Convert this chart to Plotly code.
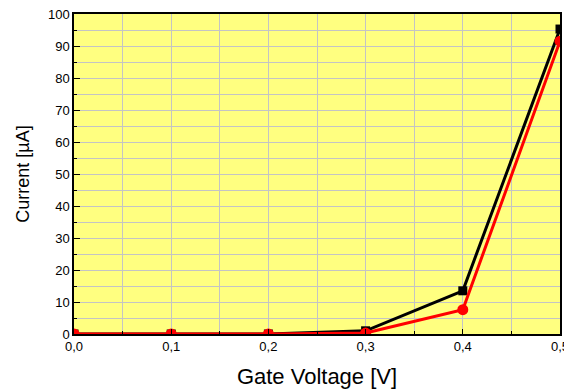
import plotly.graph_objects as go

gate_voltage = [0.0, 0.1, 0.2, 0.3, 0.4, 0.5]
current_black = [0.0, 0.0, 0.0, 1.0, 13.5, 95.3]
current_red = [0.0, 0.0, 0.0, 0.3, 7.6, 91.5]
x_tick_vals = [0.0, 0.1, 0.2, 0.3, 0.4, 0.5]
x_tick_text = ["0,0", "0,1", "0,2", "0,3", "0,4", "0,5"]
y_tick_vals = [0, 10, 20, 30, 40, 50, 60, 70, 80, 90, 100]

fig = go.Figure()
fig.add_trace(go.Scatter(x=gate_voltage, y=current_black, mode="lines+markers",
                         line=dict(color="black", width=3),
                         marker=dict(symbol="square", size=9, color="black"),
                         showlegend=False))
fig.add_trace(go.Scatter(x=gate_voltage, y=current_red, mode="lines+markers",
                         line=dict(color="#FF0000", width=3),
                         marker=dict(symbol="circle", size=11, color="#FF0000"),
                         showlegend=False))

fig.update_layout(
    width=564, height=392,
    margin=dict(l=74, r=4, t=14, b=58, autoexpand=False),
    paper_bgcolor="white", plot_bgcolor="#FFFF80",
    font=dict(family="Liberation Sans, Arial, sans-serif", color="black", size=13),
    xaxis=dict(range=[0, 0.5], tickvals=x_tick_vals, ticktext=x_tick_text,
               ticks="inside", ticklen=5, tickcolor="black", automargin=False,
               ticklabeloverflow="allow",
               showline=True, linecolor="black", linewidth=1.5, mirror=True,
               showgrid=True, gridcolor="#C4C4C4", gridwidth=1,
               minor=dict(dtick=0.05, showgrid=True, gridcolor="#C4C4C4",
                          ticks="inside", ticklen=3, tickcolor="black"),
               zeroline=False,
               title=dict(text="Gate Voltage [V]", font=dict(size=22), standoff=15)),
    yaxis=dict(range=[0, 100], tickvals=y_tick_vals,
               ticks="inside", ticklen=6, tickcolor="black", automargin=False,
               showline=True, linecolor="black", linewidth=1.5, mirror=True,
               showgrid=True, gridcolor="#C4C4C4", gridwidth=1,
               minor=dict(dtick=5, showgrid=True, gridcolor="#C4C4C4",
                          ticks="inside", ticklen=3, tickcolor="black"),
               zeroline=False,
               title=dict(text="Current [µA]", font=dict(size=18), standoff=14)),
)

fig.write_html("out.html", config={"displayModeBar": False},
               post_script="document.body.style.margin='0';")
